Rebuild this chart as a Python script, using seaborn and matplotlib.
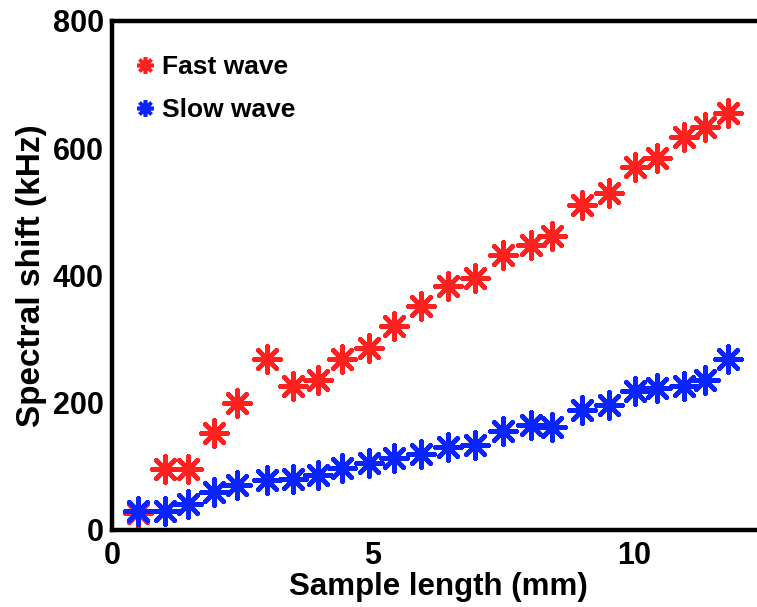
import matplotlib
matplotlib.use('Agg')
import matplotlib.pyplot as plt
from matplotlib.lines import Line2D
import pandas as pd
import seaborn as sns

# sample lengths (mm), shared by both series
sample_length = [0.5, 1.02, 1.45, 1.96, 2.4, 2.96, 3.47, 3.94, 4.4, 4.92, 5.4, 5.92,
                 6.44, 6.95, 7.48, 8.03, 8.43, 9.0, 9.52, 10.02, 10.43, 10.95, 11.35, 11.8]
fast_wave = [27, 96, 96, 152, 199, 268, 226, 236, 268, 286, 320, 352,
             384, 396, 432, 448, 462, 511, 530, 571, 584, 617, 634, 655]
slow_wave = [30, 30, 41, 60, 71, 79, 80, 86, 97, 105, 113, 120,
             131, 134, 155, 165, 162, 189, 197, 218, 223, 226, 236, 268]
series_names = ['Fast wave', 'Slow wave']
series_colors = ['#ff2020', '#0a24ff']

df = pd.DataFrame({
    'length': sample_length * 2,
    'shift': fast_wave + slow_wave,
    'wave': [series_names[0]] * len(fast_wave) + [series_names[1]] * len(slow_wave),
})

sns.set_style('white')
plt.rcParams['font.family'] = ['Liberation Sans', 'DejaVu Sans']
plt.rcParams['font.weight'] = 'bold'
plt.rcParams['text.color'] = 'black'
plt.rcParams['axes.labelcolor'] = 'black'
plt.rcParams['xtick.color'] = 'black'
plt.rcParams['ytick.color'] = 'black'

fig = plt.figure(figsize=(7.57, 6.07), dpi=100)
ax = fig.add_axes([0.148, 0.127, 0.862, 0.8386])

asterisk = (8, 2, 0)
for name, col in zip(series_names, series_colors):
    sub = df[df['wave'] == name]
    sns.scatterplot(x='length', y='shift', data=sub, ax=ax, marker=asterisk,
                    s=350, color=col, linewidth=3.4, legend=False)

ax.set_xlim(0, 12.5)
ax.set_ylim(0, 800)
ax.set_xticks([0, 5, 10])
ax.set_yticks([0, 200, 400, 600, 800])
ax.set_xlabel('Sample length (mm)', fontsize=22.5, fontweight='bold', labelpad=1)
ax.set_ylabel('Spectral shift (kHz)', fontsize=24, fontweight='bold', labelpad=4)
ax.tick_params(direction='in', length=5, width=3, labelsize=22, pad=6)
ax.tick_params(axis='x', pad=8)
for lab in ax.get_xticklabels() + ax.get_yticklabels():
    lab.set_fontweight('bold')
for side in ['left', 'bottom', 'top', 'right']:
    ax.spines[side].set_linewidth(3.2)
    ax.spines[side].set_color('black')

handles = [Line2D([], [], linestyle='', marker=asterisk, markersize=12,
                  markeredgewidth=2.6, color=c) for c in series_colors]
ax.legend(handles, series_names, loc='upper left', bbox_to_anchor=(0.038, 0.932),
          frameon=False, prop={'size': 19, 'weight': 'bold'}, handlelength=0.6,
          handletextpad=0.35, labelspacing=0.72, borderaxespad=0, borderpad=0)

fig.savefig('out.png', dpi=100)
